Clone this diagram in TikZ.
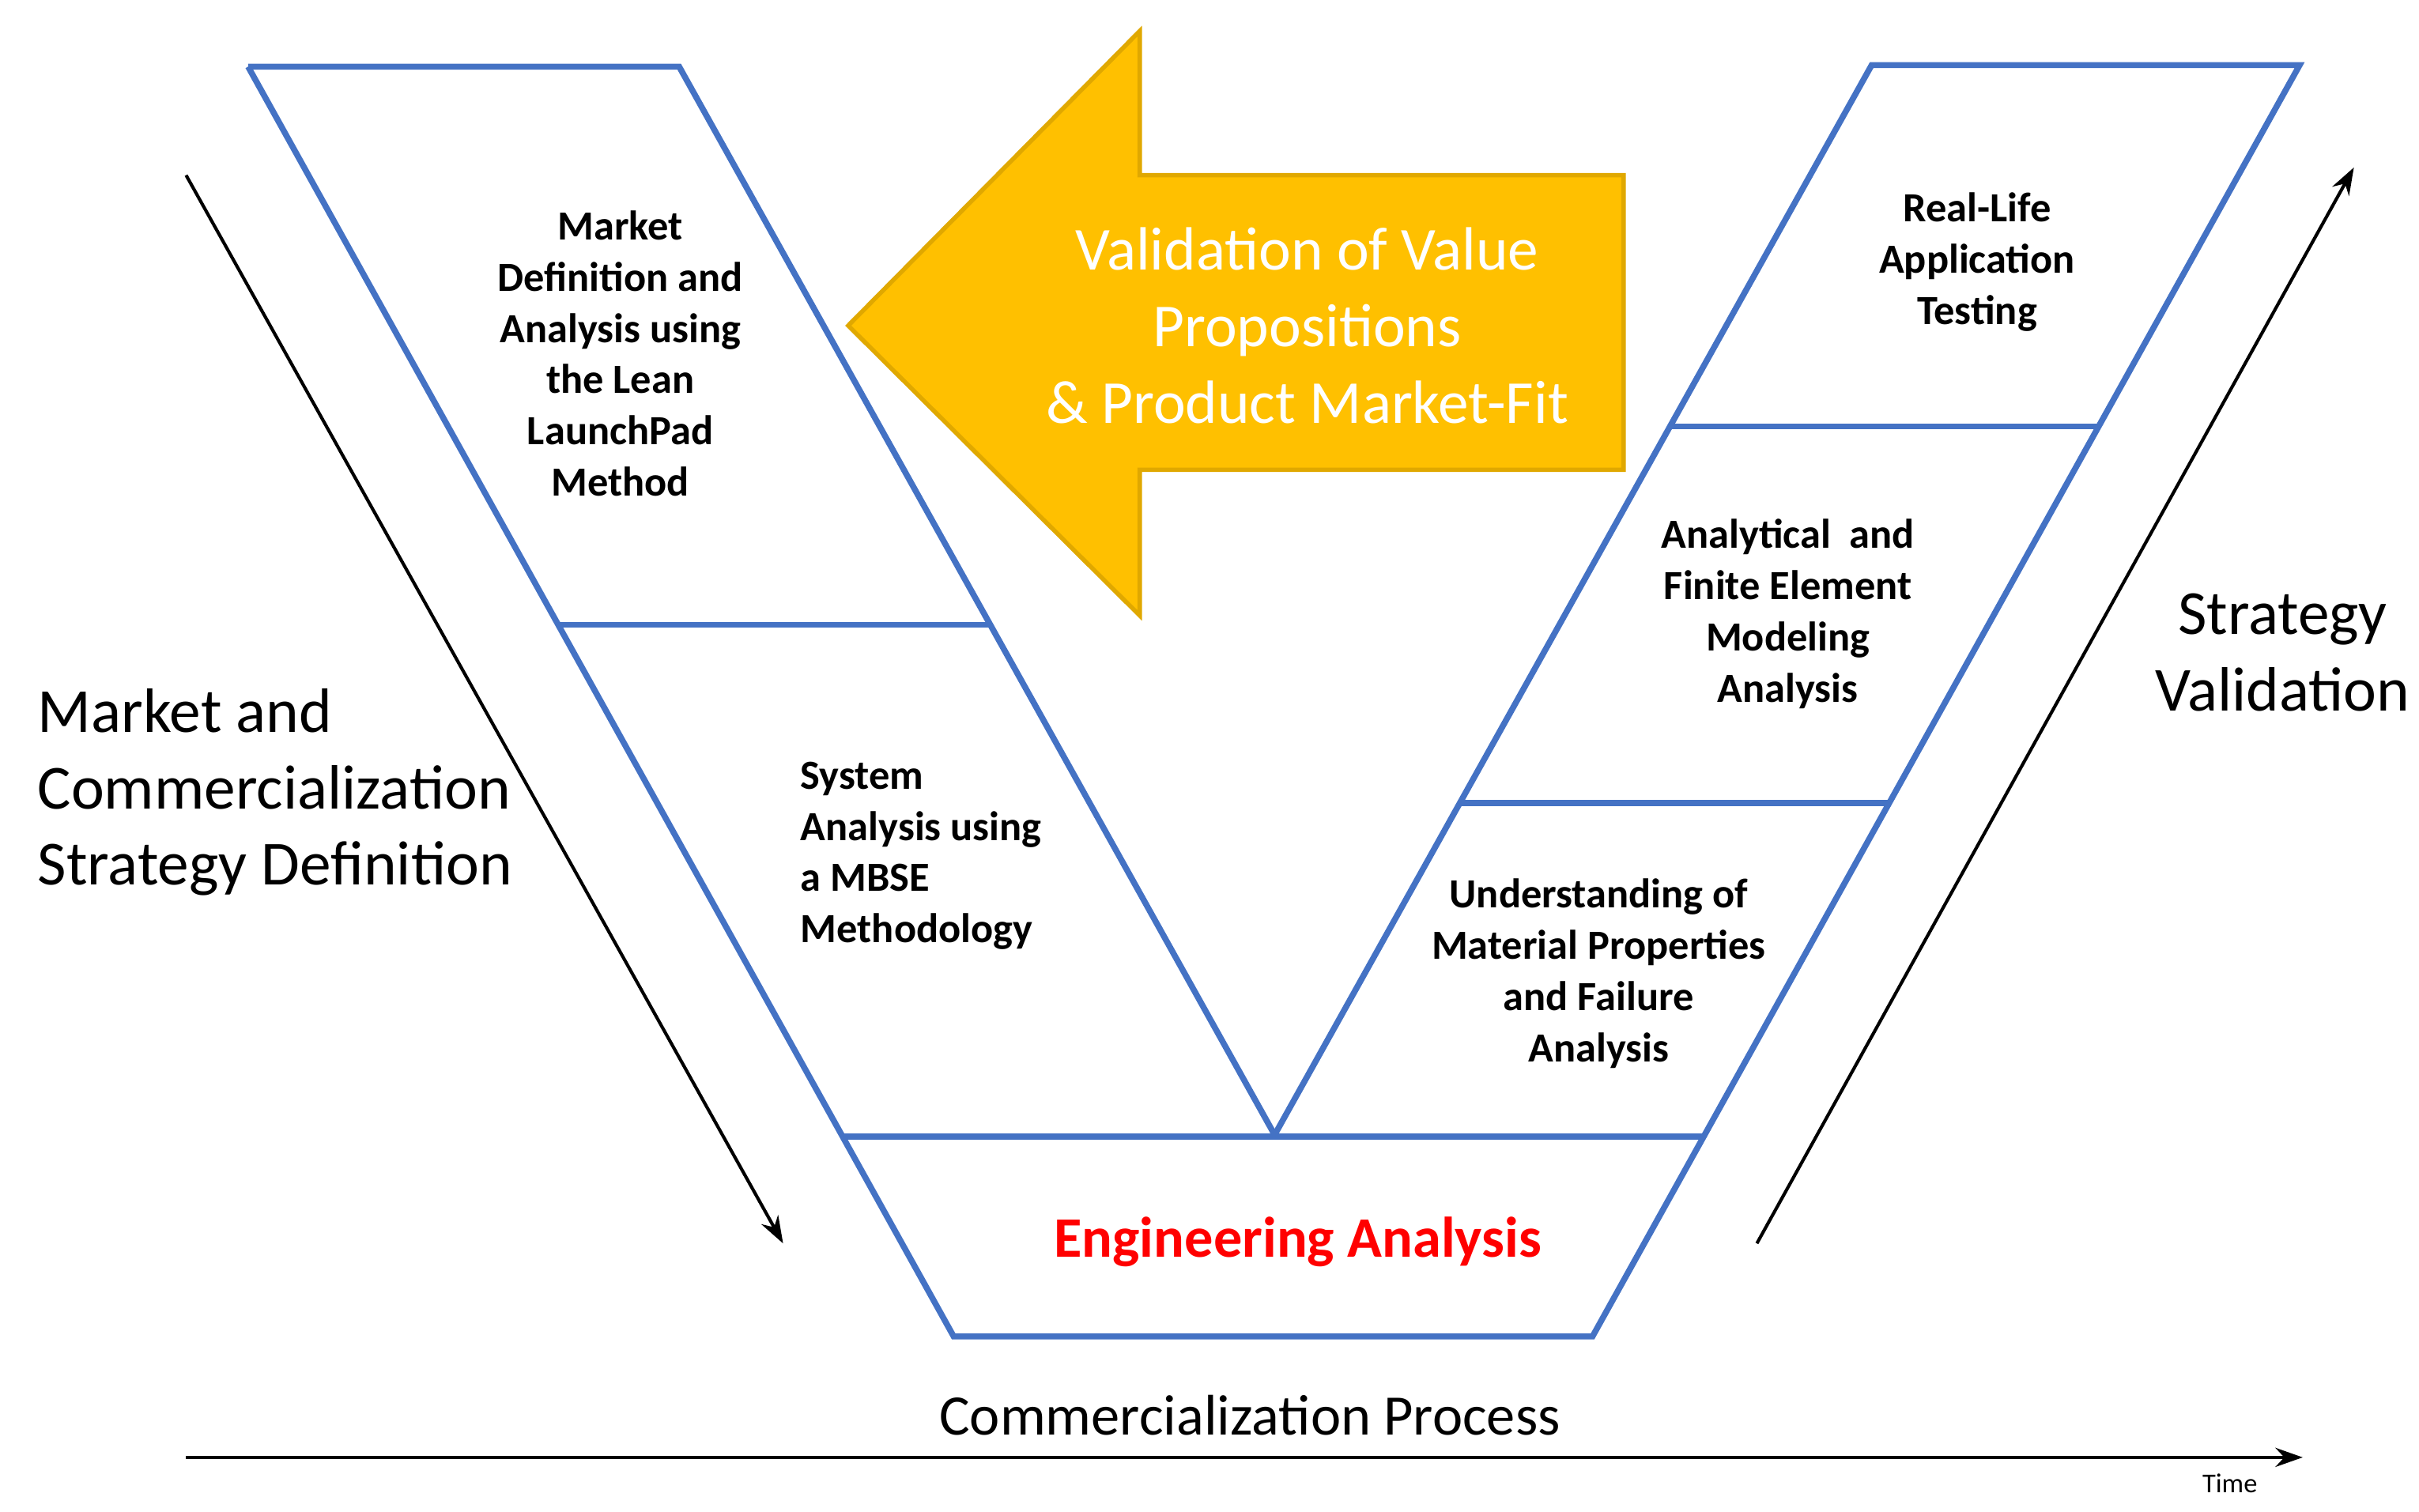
\documentclass[tikz,border=0pt]{standalone}
\usepackage{fontspec}
\setmainfont{Carlito}
\usetikzlibrary{arrows.meta}
\definecolor{vblue}{HTML}{4472C4}
\definecolor{vyel}{HTML}{FFC000}
\definecolor{vyelb}{HTML}{E0A800}
\begin{document}
\begin{tikzpicture}[x=0.01cm,y=-0.01cm,
  vl/.style={draw=vblue,line width=1.1pt},
  lab/.style={font=\fontsize{7.6}{9.4}\selectfont\bfseries,align=center},
  big/.style={font=\fontsize{11.5}{14}\selectfont,align=left},
  ar/.style={line width=0.6pt,-{Stealth[length=5pt,width=3.5pt]}}]
\useasboundingbox (0,0) rectangle (1560,975);
% left arm
\draw[vl] (160,43) -- (438,43) -- (822,732);
\draw[vl] (160,43) -- (615,862) -- (1027,862) -- (1483,42) -- (1207,42) -- (822,732);
\draw[vl] (360,403) -- (638,403);
\draw[vl] (543,733) -- (1099,733);
\draw[vl] (1077,275) -- (1353,275);
\draw[vl] (941,518) -- (1218,518);
% yellow arrow
\draw[fill=vyel,draw=vyelb,line width=0.8pt] (547,210) -- (735,20) -- (735,113) -- (1047,113) -- (1047,303) -- (735,303) -- (735,397) -- cycle;
\node[font=\fontsize{11.2}{14}\selectfont,text=white,align=center] (val) at (843,210) {Validation of Value\\Propositions\\\& Product Market-Fit};
% labels
\node[lab] (m) at (400,228) {Market\\Definition and\\Analysis using\\the Lean\\LaunchPad\\Method};
\node[lab,align=left] (s) at (594,552) {System\\Analysis using\\a MBSE\\Methodology};
\node[lab] (r) at (1275,169) {Real-Life\\Application\\Testing};
\node[lab] (a) at (1153,396) {Analytical~ and\\Finite Element\\Modeling\\Analysis};
\node[lab] (u) at (1031,628) {Understanding of\\Material Properties\\and Failure\\Analysis};
\node[font=\fontsize{10.5}{12}\selectfont\bfseries,text=red] (e) at (837,801) {Engineering Analysis};
\node[big,anchor=west] (mc) at (12,511) {Market and\\Commercialization\\Strategy Definition};
\node[big,align=center] (sv) at (1472,421) {Strategy\\Validation};
\node[font=\fontsize{10.5}{12}\selectfont] (cp) at (806,913) {Commercialization Process};
\node[font=\fontsize{5}{6}\selectfont] (t) at (1438,957) {Time};
% arrows
\coordinate (a1) at (120,113); \coordinate (a2) at (505,802);
\coordinate (b1) at (1133,802); \coordinate (b2) at (1518,108);
\coordinate (c1) at (120,940); \coordinate (c2) at (1485,940);
\draw[ar] (a1) -- (a2);
\draw[ar] (b1) -- (b2);
\draw[ar] (c1) -- (c2);
\end{tikzpicture}
\end{document}
